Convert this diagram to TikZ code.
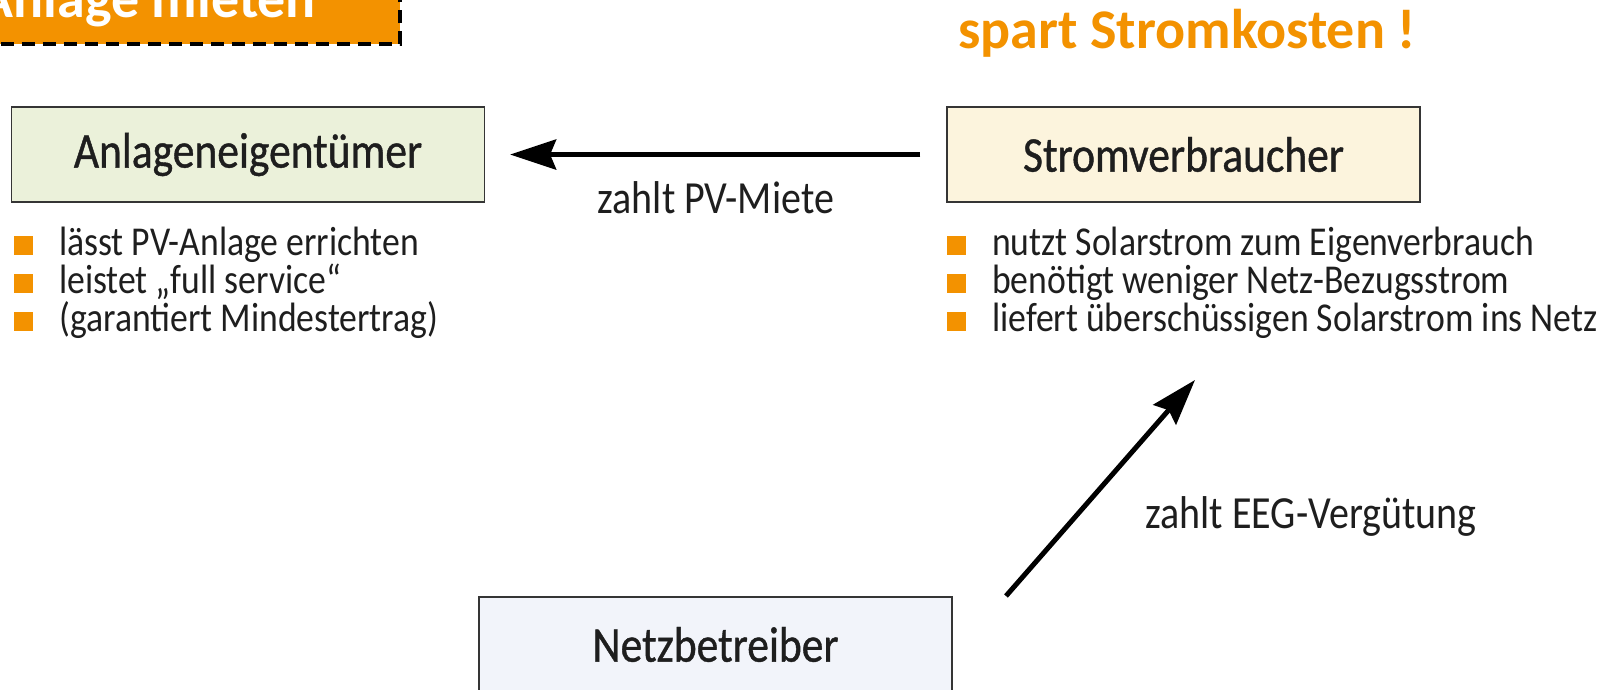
\documentclass[tikz,border=0pt]{standalone}
\usepackage{fontspec}
\setmainfont{Carlito}[FakeStretch=0.87]
\newfontfamily\widefont{Carlito}
\newfontfamily\titlefont{Carlito}[FakeStretch=0.87,FakeBold=0.8]
\usetikzlibrary{arrows.meta,positioning}

\definecolor{solarorange}{HTML}{F39200}
\definecolor{ownergreen}{HTML}{EBF1DA}
\definecolor{useryellow}{HTML}{FCF4DD}
\definecolor{gridblue}{HTML}{F2F4FA}
\definecolor{inkgray}{HTML}{1E1E1E}

\newcommand{\sqbul}{\textcolor{solarorange}{\rule{19pt}{19pt}}\hspace{26pt}}

\begin{document}
\begin{tikzpicture}[x=1pt,y=-1pt,
    party/.style={draw=inkgray!90, line width=1.2pt, minimum width=473pt,
                  minimum height=95pt, text=inkgray, font=\titlefont\fontsize{50}{50}\selectfont},
    bullets/.style={align=left, inner sep=0pt, text=inkgray,
                    font=\fontsize{41}{38}\selectfont},
    payarrow/.style={-{Stealth[length=46pt,width=30pt,inset=6pt]}, line width=5pt, draw=black},
    caption/.style={inner sep=0pt, text=inkgray, font=\fontsize{46}{46}\selectfont},
    mietbox/.style={fill=solarorange, draw=black, line width=4pt, dash pattern=on 13pt off 8pt,
                    text=white, font=\widefont\fontsize{56}{56}\selectfont\bfseries,
                    inner xsep=84pt, inner ysep=17pt}]
  \useasboundingbox (0,0) rectangle (1618,689);

  % header
  \node[mietbox, anchor=south east] (miete) at (402,46) {Anlage mieten};
  \node[anchor=base west, inner sep=0pt, text=solarorange,
        font=\widefont\fontsize{56}{56}\selectfont\bfseries] (slogan) at (958,48) {spart Stromkosten !};

  % the three parties
  \node[party, fill=ownergreen] (owner) at (248,154.5) {Anlageneigentümer};
  \node[party, fill=useryellow] (user) at (1183.5,154.5) {Stromverbraucher};
  \node[party, fill=gridblue] (grid) at (715.5,644.5) {Netzbetreiber};

  \node[bullets, anchor=base west] (ownerlist) at (14,331)
    {\sqbul lässt PV-Anlage errichten\\
     \sqbul leistet „full service“\\
     \sqbul (garantiert Mindestertrag)};
  \node[bullets, anchor=base west] (userlist) at (947,331)
    {\sqbul nutzt Solarstrom zum Eigenverbrauch\\
     \sqbul benötigt weniger Netz-Bezugsstrom\\
     \sqbul liefert überschüssigen Solarstrom ins Netz};

  % payments
  \draw[payarrow, shorten <=26pt, shorten >=25pt] (user.west) -- (owner.east)
    node[caption, midway, below=25pt] (rent) {zahlt PV-Miete};

  \coordinate (eegtail) at (1006,596);
  \coordinate (eegtip) at (1195,380);
  \draw[payarrow] (eegtail) -- (eegtip);
  \node[caption] (eeg) at (1311,516) {zahlt EEG-Vergütung};
\end{tikzpicture}
\end{document}
